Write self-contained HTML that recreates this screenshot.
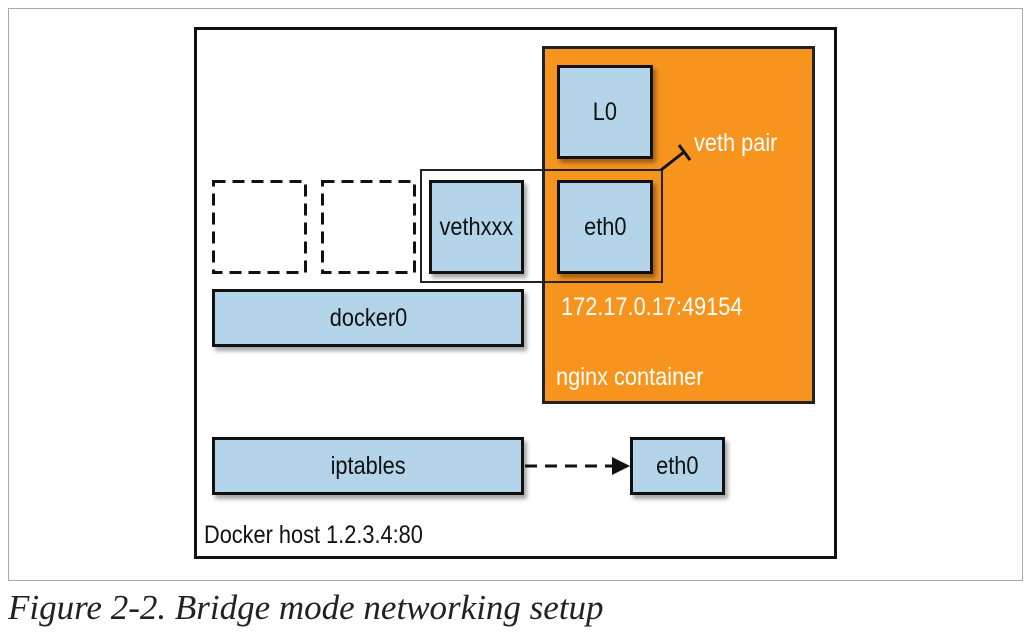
<!DOCTYPE html>
<html><head><style>
body{margin:0;background:#fff;width:1034px;height:643px;position:relative;overflow:hidden;font-family:"Liberation Sans",sans-serif}
div{position:absolute;box-sizing:border-box}
.b{background:#b3d4e9;border:3px solid #111;box-shadow:3px 4px 4px rgba(0,0,0,.35);display:flex;align-items:center;justify-content:center;font-size:25px;color:#111}
.b span,.t span{display:inline-block;transform:scaleX(0.87)}
.t span{transform-origin:left center}
.t{font-size:25px;white-space:nowrap}
</style></head><body>
<div style="left:8px;top:8px;width:1015px;height:573px;border:1px solid #aaa"></div>
<div style="left:194px;top:27px;width:643px;height:532px;border:3px solid #111"></div>
<div style="left:542px;top:46px;width:273px;height:358px;border:3px solid #222;background:#f7941e"></div>
<div class="b" style="left:557px;top:65px;width:96px;height:94px"><span>L0</span></div>
<div class="b" style="left:557px;top:180px;width:96px;height:94px"><span>eth0</span></div>
<div class="b" style="left:429px;top:180px;width:95px;height:94px"><span>vethxxx</span></div>
<div style="left:420px;top:169px;width:243px;height:114px;border:2px solid #222"></div>
<div class="b" style="left:212px;top:289px;width:312px;height:58px"><span>docker0</span></div>
<div class="b" style="left:212px;top:437px;width:312px;height:58px"><span>iptables</span></div>
<div class="b" style="left:630px;top:437px;width:95px;height:58px"><span>eth0</span></div>
<div class="t" style="left:561px;top:293px;color:#fff"><span>172.17.0.17:49154</span></div>
<div class="t" style="left:556px;top:363px;color:#fff"><span>nginx container</span></div>
<div class="t" style="left:694px;top:129px;color:#fff"><span>veth pair</span></div>
<div class="t" style="left:204px;top:521px;color:#111"><span>Docker host 1.2.3.4:80</span></div>
<svg style="position:absolute;left:0;top:0" width="1034" height="643">
<rect x="213.5" y="181.5" width="92" height="91" fill="none" stroke="#111" stroke-width="3" stroke-dasharray="12,7"/>
<rect x="322.5" y="181.5" width="92" height="91" fill="none" stroke="#111" stroke-width="3" stroke-dasharray="12,7"/>
<line x1="661" y1="170" x2="684" y2="152" stroke="#111" stroke-width="3"/>
<line x1="679" y1="145" x2="690" y2="160" stroke="#111" stroke-width="3"/>
<line x1="525" y1="466" x2="612" y2="466" stroke="#111" stroke-width="3" stroke-dasharray="12,8"/>
<polygon points="612,457 630,466 612,475" fill="#111"/>
</svg>
<div style="left:8px;top:588px;font-family:'Liberation Serif',serif;font-style:italic;font-size:35px;color:#222;white-space:nowrap">Figure 2-2. Bridge mode networking setup</div>
</body></html>
